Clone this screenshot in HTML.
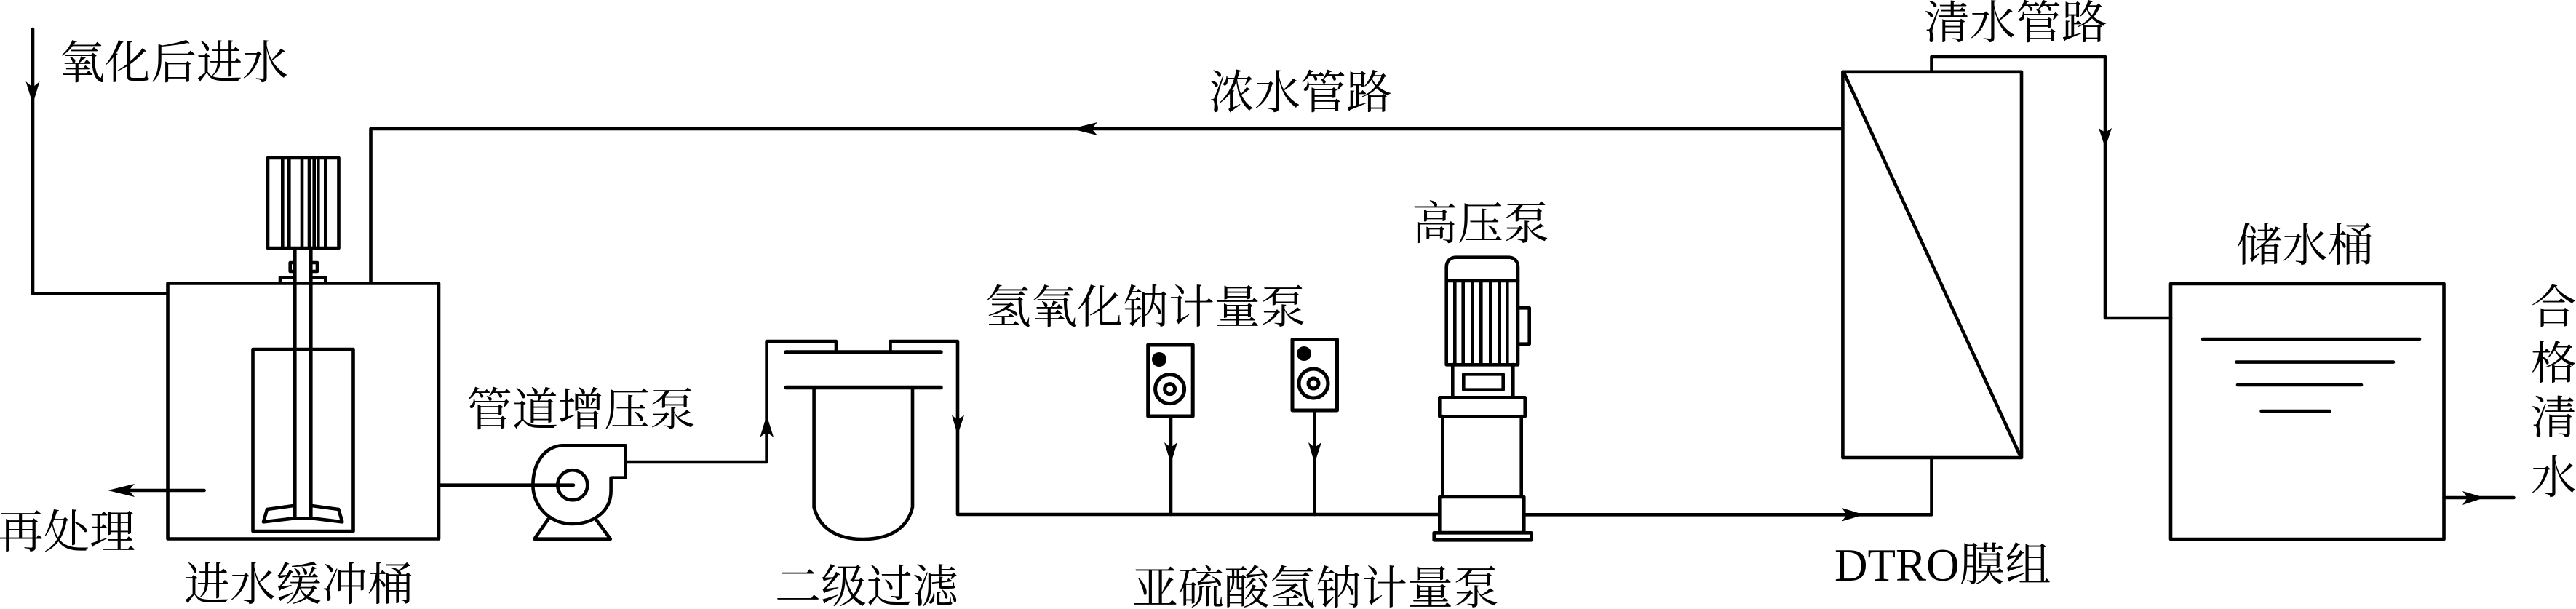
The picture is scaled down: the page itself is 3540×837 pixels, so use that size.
<!DOCTYPE html>
<html><head><meta charset="utf-8"><style>
html,body{margin:0;padding:0;background:#fff;width:3540px;height:837px;overflow:hidden}
svg{display:block}
text{font-family:"Liberation Serif","Noto Serif CJK SC",serif;font-size:63px;fill:#000}
</style></head><body>
<svg width="3540" height="837" viewBox="0 0 3540 837" xmlns="http://www.w3.org/2000/svg">
<rect width="3540" height="837" fill="#fff"/>
<g fill="none" stroke="#000" stroke-width="4.6" stroke-linejoin="round" stroke-linecap="round">
<!-- inlet -->
<path d="M45 40V403.5H230"/>
<!-- buffer tank -->
<rect x="230.5" y="389.5" width="372.5" height="351"/>
<path d="M509.5 389V177H2532"/>
<!-- mixer motor -->
<rect x="368" y="217" width="97.5" height="124"/>
<path d="M388.3 217V341M397.3 217V341M415 217V341M425 217V341M431.7 217V341M437.3 217V341M447.3 217V341"/>
<path d="M405.3 341V712M427.3 341V712"/>
<path d="M405 361H398.7V373H405M427.5 361H436V373H427.5"/>
<path d="M405 381.3H385V389M427.5 381.3H447.3V389"/>
<rect x="347.5" y="480" width="138" height="250"/>
<path d="M403.3 695L367 700L362 717.3L401.4 712.7H432L470.3 717.3L465.3 700L428.2 695"/>
<!-- return arrow -->
<path d="M280.6 674H170"/>
<!-- booster pump -->
<path d="M603 666.7H788"/>
<ellipse cx="786.8" cy="666.7" rx="20.5" ry="20.5"/>
<path d="M774 612.3H859.5V656.7H839.6V675C839.6 703 815 720 786 720C755 720 732.4 695 732.4 667C732.4 635 750 612.3 774 612.3Z"/>
<path d="M753.5 713.3L734.4 740.7H838.8L818.5 713.3"/>
<path d="M859.5 635H1053.6V469H1149V484"/>
<!-- filter -->
<path d="M1080 484H1293M1080 532.5H1293" stroke-width="5.5"/>
<path d="M1223.5 484V469H1316V707H1978"/>
<path d="M1118.6 532.5V697C1125 722 1145 741 1186 741C1228 741 1248 722 1254 697V532.5"/>
<!-- dosing pumps -->
<g stroke-width="5">
<rect x="1577.7" y="474" width="61.5" height="98"/>
<circle cx="1607.6" cy="534.6" r="20"/>
<circle cx="1607.6" cy="534.6" r="7"/>
<rect x="1776" y="466.5" width="61.5" height="97.5"/>
<circle cx="1805" cy="527" r="20"/>
<circle cx="1805" cy="527" r="7"/>
</g>
<path d="M1609 572V707M1806.6 564V707"/>
<!-- high pressure pump -->
<path d="M1987.7 386V367C1987.7 359 1993 353.7 2001 353.7H2073C2081 353.7 2086 359 2086 367V386"/>
<rect x="1987.7" y="386" width="98.3" height="115.3"/>
<path d="M1999.3 386V501M2010.7 386V501M2023.7 386V501M2035.3 386V501M2048.3 386V501M2060.7 386V501M2071.3 386V501"/>
<path d="M2086 423.3H2101.7V472.7H2086"/>
<path d="M1996.3 501V546M2079.3 501V546"/>
<rect x="2011.3" y="514.3" width="54.4" height="21.4"/>
<rect x="1978.3" y="546.3" width="117.4" height="26"/>
<path d="M1982.3 572V683M2090.7 572V683"/>
<rect x="1978.3" y="683" width="116" height="49"/>
<rect x="1970.7" y="732.3" width="133.6" height="10"/>
<!-- to membrane -->
<path d="M2094.3 707.3H2654.5V629"/>
<rect x="2532.4" y="98.8" width="245.6" height="530.2"/>
<path d="M2534 100L2776 626"/>
<path d="M2654.5 98V78H2893V437H2983"/>
<!-- storage tank -->
<rect x="2983" y="390" width="375.5" height="351"/>
<path d="M3027 466H3325M3073.5 497.6H3289M3075 529H3245M3107.6 565H3201.5"/>
<path d="M3358.5 684H3454.5"/>
</g>
<!-- dosing pump dots -->
<g fill="#000">
<circle cx="1593" cy="494" r="10"/>
<circle cx="1792" cy="486" r="10"/>
</g>
<!-- arrowheads -->
<g fill="#000">
<polygon points="45,143 35.5,112 45,120 54.5,112"/>
<polygon points="148,674 185,665 177,674 185,683"/>
<polygon points="1053.6,570.5 1044.5,600.7 1053.6,594 1063,600.7"/>
<polygon points="1316,598 1308,570.5 1316,577 1325,570.5"/>
<polygon points="1609,637 1600,608 1609,615 1618,608"/>
<polygon points="1806.6,637 1798,608 1806.6,615 1816,608"/>
<polygon points="1472,177 1508,168 1500,177 1508,186"/>
<polygon points="2561.5,707.4 2531,698 2538,707.4 2531,716.5"/>
<polygon points="2893,203 2884,176 2893,182 2902,176"/>
<polygon points="3414.5,684 3384,675 3391,684 3384,694"/>
</g>
<!-- labels -->
<text x="81" y="108">氧化后进水</text>
<text x="-3" y="753">再处理</text>
<text x="253" y="825">进水缓冲桶</text>
<text x="641" y="585">管道增压泵</text>
<text x="1065" y="828">二级过滤</text>
<text x="1556" y="830">亚硫酸氢钠计量泵</text>
<text x="1354" y="444">氢氧化钠计量泵</text>
<text x="1940" y="329">高压泵</text>
<text x="1661" y="149">浓水管路</text>
<text x="2644" y="53">清水管路</text>
<text x="3073" y="359">储水桶</text>
<text x="2521" y="798">DTRO膜组</text>
<text x="3478" y="444">合</text>
<text x="3478" y="521">格</text>
<text x="3478" y="596">清</text>
<text x="3478" y="678">水</text>
</svg>
</body></html>
